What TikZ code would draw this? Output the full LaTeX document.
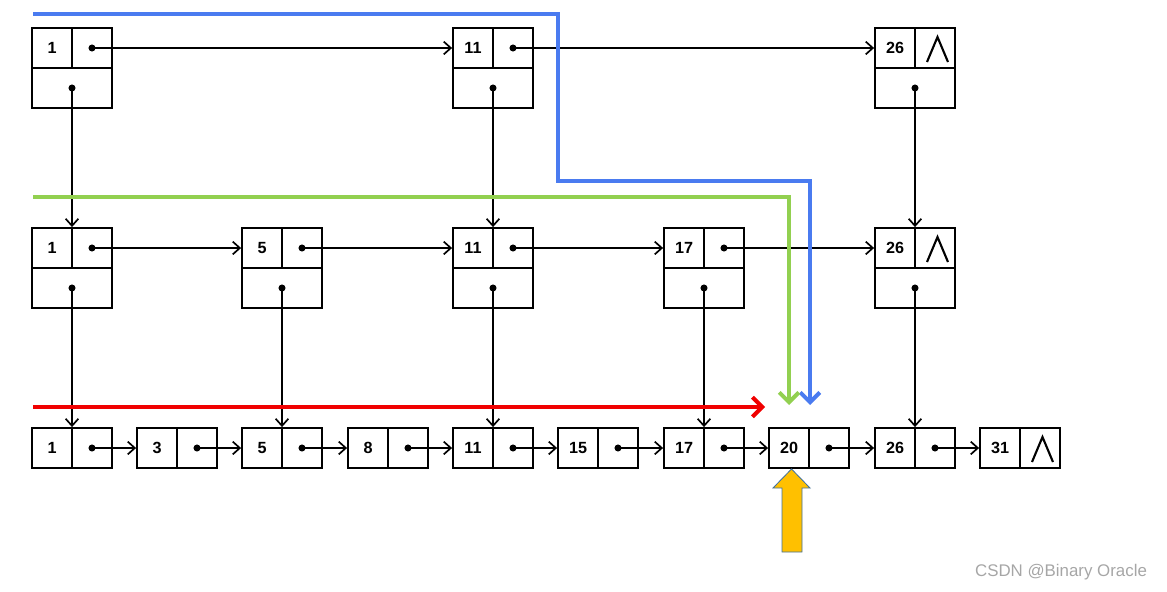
\documentclass[tikz,border=0pt]{standalone}
\usepackage{fontspec}
\setmainfont{Liberation Sans}
\usetikzlibrary{arrows.meta}
\definecolor{searchblue}{RGB}{74,123,240}
\definecolor{searchgreen}{RGB}{146,208,80}
\definecolor{searchred}{RGB}{240,0,0}
\definecolor{hitorange}{RGB}{255,192,0}
\definecolor{hitedge}{RGB}{65,113,156}
\tikzset{
  cell/.style={draw, line width=1.3pt, minimum width=1cm, minimum height=1cm, inner sep=0pt,
    font=\fontsize{11.5}{13}\selectfont\bfseries},
  downcell/.style={cell, minimum width=2cm},
  nil/.style={path picture={\draw[line width=1.5pt]
    ([shift={(12,-6)}]path picture bounding box.south west) -- ++(10.5,-25) -- ++(10.5,25);}},
  link/.style={line width=1.2pt, -{Straight Barb[length=5pt,width=9pt]}},
  search/.style={line width=2.8pt, -{Straight Barb[length=7pt,width=14pt]}}
}
\begin{document}
\begin{tikzpicture}[x=0.025cm, y=-0.025cm]
\useasboundingbox (0,0) rectangle (1167,592);

% top level
\foreach \k/\x in {1/32,11/453} {
  \node[cell] (t\k) at (\x+20,48) {\k};
  \node[cell] (tp\k) at (\x+60,48) {};
  \node[downcell] (td\k) at (\x+40,88) {};
}
\node[cell] (t26) at (895,48) {26};
\node[cell,nil] (tp26) at (935,48) {};
\node[downcell] (td26) at (915,88) {};

% middle level
\foreach \k/\x in {1/32,5/242,11/453,17/664} {
  \node[cell] (m\k) at (\x+20,248) {\k};
  \node[cell] (mp\k) at (\x+60,248) {};
  \node[downcell] (md\k) at (\x+40,288) {};
}
\node[cell] (m26) at (895,248) {26};
\node[cell,nil] (mp26) at (935,248) {};
\node[downcell] (md26) at (915,288) {};

% bottom level
\foreach \k/\x in {1/32,3/137,5/242,8/348,11/453,15/558,17/664,20/769,26/875} {
  \node[cell] (b\k) at (\x+20,448) {\k};
  \node[cell] (bp\k) at (\x+60,448) {};
}
\node[cell] (b31) at (1000,448) {31};
\node[cell,nil] (bp31) at (1040,448) {};

% next pointers
\foreach \a/\b in {1/11,11/26} {
  \fill (tp\a) circle (2.5pt);
  \draw[link] (tp\a.center) -- (t\b.west);
}
\foreach \a/\b in {1/5,5/11,11/17,17/26} {
  \fill (mp\a) circle (2.5pt);
  \draw[link] (mp\a.center) -- (m\b.west);
}
\foreach \a/\b in {1/3,3/5,5/8,8/11,11/15,15/17,17/20,20/26,26/31} {
  \fill (bp\a) circle (2.5pt);
  \draw[link] (bp\a.center) -- (b\b.west);
}

% down pointers
\foreach \k in {1,11,26} {
  \fill (td\k) circle (2.5pt);
  \draw[link] (td\k.center) -- (td\k.center |- m\k.north);
}
\foreach \k in {1,5,11,17,26} {
  \fill (md\k) circle (2.5pt);
  \draw[link] (md\k.center) -- (md\k.center |- b\k.north);
}

% search paths
\coordinate (bluestart) at (33,14);
\coordinate (blueturn) at (558,181);
\coordinate (blueend) at (810,405);
\coordinate (greenstart) at (33,197);
\coordinate (greenend) at (789,405);
\coordinate (redstart) at (33,407);
\coordinate (redend) at (765,407);
\draw[search, searchblue] (bluestart) -| (blueturn) -| (blueend);
\draw[search, searchgreen] (greenstart) -| (greenend);
\draw[search, searchred] (redstart) -- (redend);

% found
\filldraw[fill=hitorange, draw=hitedge, line width=0.6pt]
  (782,552) -- (782,488) -- (773,488) -- (791.5,469) -- (810,488) -- (802,488) -- (802,552) -- cycle;

\node[text=black!35, font=\fontsize{12}{14}\selectfont] (mark) at (1061,572) {CSDN @Binary Oracle};
\end{tikzpicture}
\end{document}
